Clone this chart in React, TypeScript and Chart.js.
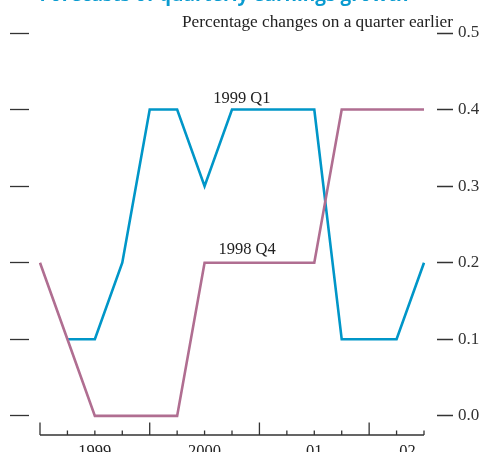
import React, { useEffect, useRef } from "react";
import { Chart, registerables } from "chart.js";

Chart.register(...registerables);

const QUARTERS = [
  "1999 Q1", "1999 Q2", "1999 Q3", "1999 Q4",
  "2000 Q1", "2000 Q2", "2000 Q3", "2000 Q4",
  "2001 Q1", "2001 Q2", "2001 Q3", "2001 Q4",
  "2002 Q1", "2002 Q2", "2002 Q3",
];
const SERIES_1999Q1 = [null, 0.1, 0.1, 0.2, 0.4, 0.4, 0.3, 0.4, 0.4, 0.4, 0.4, 0.1, 0.1, 0.1, 0.2];
const SERIES_1998Q4 = [0.2, 0.1, 0.0, 0.0, 0.0, 0.0, 0.2, 0.2, 0.2, 0.2, 0.2, 0.4, 0.4, 0.4, 0.4];
const SERIES_NAMES = ["1999 Q1", "1998 Q4"];
const SERIES_COLORS = ["#0096c8", "#b06e91"];
const NAME_X = [7.36, 7.55];
const NAME_Y = [0.409, 0.211];
const Y_TICKS = [0, 0.1, 0.2, 0.3, 0.4, 0.5];
const Y_MIN = -0.025;
const Y_MAX = 0.5;
const YEAR_LABELS = ["1999", "2000", "01", "02"];
const YEAR_LABEL_POS = [2, 6, 10, 13.4];
const YEAR_START_POS = [0, 4, 8, 12];
const TITLE = "Forecasts of quarterly earnings growth";
const SUBTITLE = "Percentage changes on a quarter earlier";

const SERIF = '"Liberation Serif", "Times New Roman", serif';

const overlay = {
  id: "overlay",
  afterDraw(chart: any) {
    const { ctx, chartArea, scales } = chart;
    const x = scales.x;
    const y = scales.y;
    ctx.save();
    // x axis baseline and quarter ticks
    const by = chartArea.bottom;
    ctx.strokeStyle = "#333";
    ctx.lineWidth = 1.3;
    ctx.beginPath();
    ctx.moveTo(x.getPixelForValue(0), by);
    ctx.lineTo(x.getPixelForValue(QUARTERS.length - 1), by);
    QUARTERS.forEach((_q, i) => {
      const px = x.getPixelForValue(i);
      const len = YEAR_START_POS.includes(i) ? 12.5 : 4.5;
      ctx.moveTo(px, by);
      ctx.lineTo(px, by - len);
    });
    ctx.stroke();

    // series names
    ctx.fillStyle = "#222";
    ctx.font = `16.5px ${SERIF}`;
    ctx.textAlign = "center";
    ctx.textBaseline = "alphabetic";
    SERIES_NAMES.forEach((n, i) => {
      ctx.fillText(n, x.getPixelForValue(NAME_X[i]), y.getPixelForValue(NAME_Y[i]));
    });

    // subtitle
    ctx.font = `17.3px ${SERIF}`;
    ctx.textAlign = "right";
    ctx.fillText(SUBTITLE, 453, 27);

    // title (cut off at the top)
    ctx.font = 'bold 19px "Open Sans", sans-serif';
    ctx.fillStyle = "#0a9bd0";
    ctx.textAlign = "left";
    const pre = ctx.measureText("Forecasts of ").width;
    ctx.fillText(TITLE, 159 - pre, 1);
    ctx.restore();
  },
};

export default function App() {
  const ref = useRef<HTMLCanvasElement>(null);
  useEffect(() => {
    if (!ref.current) return;
    const tickFont = { family: SERIF, size: 17 };
    const chart = new Chart(ref.current, {
      type: "line",
      data: {
        labels: QUARTERS,
        datasets: [
          {
            label: SERIES_NAMES[1],
            data: SERIES_1998Q4,
            borderColor: SERIES_COLORS[1],
            borderWidth: 2.6,
            pointRadius: 0,
            tension: 0,
            fill: false,
            yAxisID: "y",
          },
          {
            label: SERIES_NAMES[0],
            data: SERIES_1999Q1,
            borderColor: SERIES_COLORS[0],
            borderWidth: 2.6,
            pointRadius: 0,
            tension: 0,
            fill: false,
            yAxisID: "y",
          },
        ],
      },
      options: {
        animation: false,
        responsive: false,
        maintainAspectRatio: false,
        layout: { padding: { top: 33, left: 0, right: 0, bottom: 0 } },
        plugins: { legend: { display: false }, tooltip: { enabled: false } },
        scales: {
          x: {
            type: "category",
            grid: { display: false, drawTicks: false },
            border: { display: false },
            ticks: {
              autoSkip: false,
              maxRotation: 0,
              minRotation: 0,
              padding: 7,
              color: "#222",
              font: { family: SERIF, size: 16.5 },
              callback: (_v: any, i: number) => YEAR_LABELS[i],
            },
            afterBuildTicks: (s: any) => {
              s.ticks = YEAR_LABEL_POS.map((v) => ({ value: v }));
            },
            afterFit: (s: any) => {
              s.height = 17;
            },
          },
          y: {
            position: "right",
            min: Y_MIN,
            max: Y_MAX,
            afterBuildTicks: (s: any) => {
              s.ticks = Y_TICKS.map((v) => ({ value: v }));
            },
            grid: {
              drawOnChartArea: false,
              tickLength: 29,
              tickColor: "#333",
              tickWidth: 1.3,
              tickBorderDash: [0, 13, 16, 100],
            },
            border: { display: false },
            ticks: {
              padding: 5,
              color: "#333",
              font: tickFont,
              callback: (v: any) => Number(v).toFixed(1),
            },
            afterFit: (s: any) => {
              s.width = 60;
            },
          },
          yL: {
            position: "left",
            min: Y_MIN,
            max: Y_MAX,
            afterBuildTicks: (s: any) => {
              s.ticks = Y_TICKS.map((v) => ({ value: v }));
            },
            grid: {
              drawOnChartArea: false,
              tickLength: 30,
              tickColor: "#333",
              tickWidth: 1.3,
              tickBorderDash: [19, 100],
            },
            border: { display: false },
            ticks: { display: false },
            afterFit: (s: any) => {
              s.width = 40;
            },
          },
        },
      } as any,
      plugins: [overlay],
    });
    return () => chart.destroy();
  }, []);
  return (
    <div style={{ position: "absolute", left: 0, top: 0, width: 484, height: 452 }}>
      <canvas ref={ref} width={484} height={452} />
    </div>
  );
}
